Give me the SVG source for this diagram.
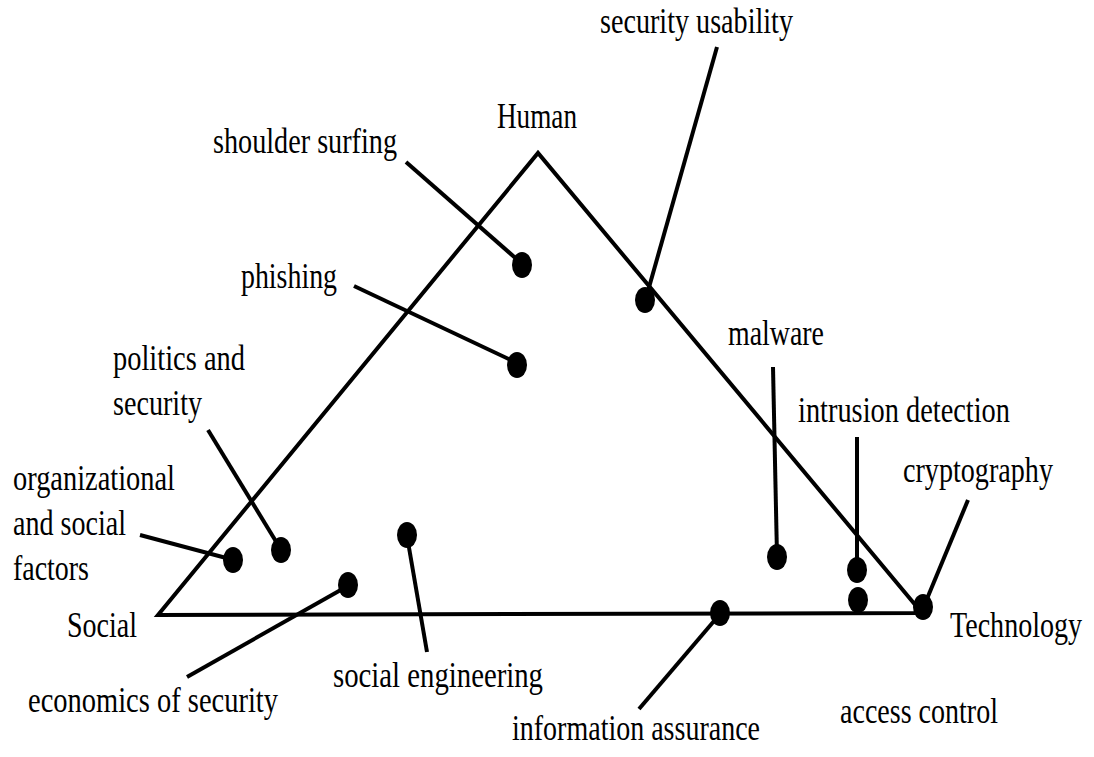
<svg xmlns="http://www.w3.org/2000/svg" width="1094" height="757" viewBox="0 0 1094 757">
<style>
text{font-family:"Liberation Serif","Times New Roman",serif;font-size:36px;fill:#000}
.edge{stroke:#000;stroke-width:4;fill:none;stroke-linecap:butt;stroke-linejoin:miter}
.lead{stroke:#000;stroke-width:4;fill:none}
.dot{fill:#000}
</style>
<rect width="1094" height="757" fill="#fff"/>
<g id="triangle">
<polyline class="edge" points="922,613 538,153 158,615 922,613"/>
</g>
<g id="connectors">
<line class="lead" x1="406" y1="162" x2="520" y2="262"/>
<line class="lead" x1="717" y1="47" x2="646" y2="298"/>
<line class="lead" x1="354" y1="286" x2="515" y2="362"/>
<line class="lead" x1="208" y1="430" x2="280" y2="548"/>
<line class="lead" x1="140" y1="535" x2="230" y2="559"/>
<line class="lead" x1="187" y1="677" x2="346" y2="587"/>
<line class="lead" x1="407" y1="536" x2="427" y2="652"/>
<line class="lead" x1="639" y1="709" x2="720" y2="614"/>
<line class="lead" x1="773" y1="367" x2="777" y2="556"/>
<line class="lead" x1="857" y1="437" x2="857" y2="568"/>
<line class="lead" x1="968" y1="500" x2="924" y2="606"/>
</g>
<g id="label-human"><text x="497" y="128" textLength="80" lengthAdjust="spacingAndGlyphs">Human</text></g>
<g id="label-social"><text x="67" y="637" textLength="70" lengthAdjust="spacingAndGlyphs">Social</text></g>
<g id="label-technology"><text transform="translate(950,637) scale(0.78,1)" x="0" y="0">Technology</text></g>
<g id="node-shoulder-surfing">
<ellipse class="dot" cx="522" cy="265" rx="10" ry="13"/>
<text x="213" y="153" textLength="184" lengthAdjust="spacingAndGlyphs">shoulder surfing</text>
</g>
<g id="node-security-usability">
<ellipse class="dot" cx="645" cy="300" rx="10" ry="13"/>
<text x="600" y="33" textLength="193" lengthAdjust="spacingAndGlyphs">security usability</text>
</g>
<g id="node-phishing">
<ellipse class="dot" cx="517" cy="365" rx="10" ry="13"/>
<text x="241" y="288" textLength="96" lengthAdjust="spacingAndGlyphs">phishing</text>
</g>
<g id="node-politics">
<ellipse class="dot" cx="281" cy="550" rx="10" ry="13"/>
<text x="113" y="370" textLength="132" lengthAdjust="spacingAndGlyphs">politics and</text>
<text x="113" y="415" textLength="89" lengthAdjust="spacingAndGlyphs">security</text>
</g>
<g id="node-organizational">
<ellipse class="dot" cx="233" cy="560" rx="10" ry="13"/>
<text x="13" y="490" textLength="162" lengthAdjust="spacingAndGlyphs">organizational</text>
<text x="13" y="535" textLength="113" lengthAdjust="spacingAndGlyphs">and social</text>
<text x="13" y="580" textLength="76" lengthAdjust="spacingAndGlyphs">factors</text>
</g>
<g id="node-economics">
<ellipse class="dot" cx="348" cy="585" rx="10" ry="13"/>
<text x="28" y="712" textLength="250" lengthAdjust="spacingAndGlyphs">economics of security</text>
</g>
<g id="node-social-engineering">
<ellipse class="dot" cx="407" cy="535" rx="10" ry="13"/>
<text x="333" y="687" textLength="210" lengthAdjust="spacingAndGlyphs">social engineering</text>
</g>
<g id="node-information-assurance">
<ellipse class="dot" cx="720" cy="613" rx="10" ry="13"/>
<text x="512" y="740" textLength="248" lengthAdjust="spacingAndGlyphs">information assurance</text>
</g>
<g id="node-malware">
<ellipse class="dot" cx="777" cy="557" rx="10" ry="13"/>
<text x="728" y="345" textLength="96" lengthAdjust="spacingAndGlyphs">malware</text>
</g>
<g id="node-intrusion-detection">
<ellipse class="dot" cx="857" cy="570" rx="10" ry="13"/>
<text x="798" y="422" textLength="212" lengthAdjust="spacingAndGlyphs">intrusion detection</text>
</g>
<g id="node-access-control">
<ellipse class="dot" cx="858" cy="600" rx="10" ry="13"/>
<text x="840" y="723" textLength="158" lengthAdjust="spacingAndGlyphs">access control</text>
</g>
<g id="node-cryptography">
<ellipse class="dot" cx="923" cy="607" rx="10" ry="13"/>
<text x="903" y="482" textLength="150" lengthAdjust="spacingAndGlyphs">cryptography</text>
</g>
</svg>
